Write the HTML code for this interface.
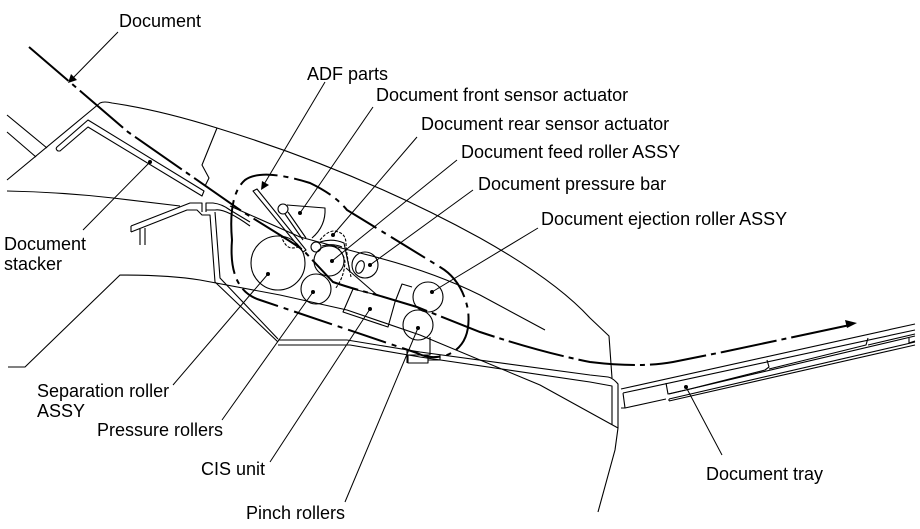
<!DOCTYPE html>
<html><head><meta charset="utf-8"><style>
html,body{margin:0;padding:0;background:#fff}
svg{display:block}
text{font-family:"Liberation Sans",sans-serif;font-size:18px;fill:#000}
</style></head><body>
<svg width="920" height="529" viewBox="0 0 920 529" xmlns="http://www.w3.org/2000/svg">
<g fill="none" stroke="#000" stroke-width="1.1" stroke-linejoin="round">
<!-- body outline -->
<path d="M7 180L100 103Q104 101 112 103Q160 110 217 128Q360 172 480 238Q555 280 590 318L609 336L612 378"/>
<path d="M217 128L202 165L209 178L205 186"/>
<path d="M7 115L47 148M7 132L36 157"/>
<path d="M7 191Q60 192 113 198L180 206"/>
<!-- stacker -->
<path d="M58 151Q55 149 57 147L88 120L204 191L202 196L88 127L60 151Z"/>
<!-- left frame -->
<path d="M131 226L190 203H202V212M131 232L187 210H197L202 215H210L215 282L278 342M131 226V232M140 229V245M145 228V245"/>
<path d="M206 212V203H213Q222 204 230 210L250 222M215 212L220 278L278 339M206 210H215Q225 208 250 226"/>
<!-- lower body -->
<path d="M8 367H25L120 275Q170 275 200 280L280 295L347 310L420 335L540 385L618 428L615 450L598 512"/>
<path d="M278 340H347L420 352L590 375L608 377Q613 378 618 384V428M278 345H350L420 357L590 382L612 386V425"/>
<!-- inner curve -->
<path d="M230 206L300 237L360 253Q430 270 480 295L545 330"/>
<!-- rollers -->
<circle cx="278" cy="263" r="27"/>
<circle cx="316" cy="289" r="15"/>
<circle cx="329" cy="261" r="15"/>
<circle cx="365" cy="265" r="13"/>
<circle cx="428" cy="297" r="15"/>
<circle cx="418" cy="325" r="15"/>
<circle cx="316" cy="247" r="5"/>
<circle cx="283" cy="209" r="5"/>
<ellipse cx="360" cy="267" rx="4" ry="6.5" transform="rotate(20 360 267)"/>
<!-- actuator -->
<path d="M287 205L325 208Q326 226 312 238"/>
<path d="M285 214L303 240M288 212L306 238"/>
<path d="M253 191L257 189L306 250L303 252Z"/>
<path d="M281 235Q285 248 292 248Q296 248 301 246M320 240Q330 228 338 232Q346 234 346 244Q347 258 351 277" stroke-dasharray="3 1.5"/>
<path d="M334 246Q343 250 345 262Q344 278 335 289" stroke-dasharray="3 1.5"/>
<path d="M320 242Q332 238 344 243L350 272M322 246Q332 243 342 247"/>
<path d="M346 268L377 295"/>
<!-- CIS -->
<path d="M353 289L343 312L388 327L395 302L402 284L412 287"/>
<path d="M353 289L377 295"/>
<!-- pinch bracket -->
<path d="M430 337V355H408V363H428V355M440 355V360H428M407 350V363"/>
<!-- tray -->
<path d="M621 389L915 324M623 393L915 330M623 393L625 408L666 399M621 408H625"/>
<path d="M666 383L668 394L690 389L765 370L769 367L767 360M769 369L866 345L868 338M868 345L915 334"/>
<path d="M669 399L915 342M669 401L915 345M669 399V401M669 394L915 336"/>
<path d="M909 338V343L915 341"/>
</g>
<!-- leaders -->
<g fill="none" stroke="#000" stroke-width="1">
<path d="M118 32L72 79"/>
<path d="M325 82L263 186"/>
<path d="M373 107L300 213"/>
<path d="M417 137L333 235"/>
<path d="M457 160L332 261"/>
<path d="M473 190L370 265"/>
<path d="M538 228L432 292"/>
<path d="M83 230L150 162"/>
<path d="M173 385L268 274"/>
<path d="M222 420L313 292"/>
<path d="M270 462L370 309"/>
<path d="M345 502L418 328"/>
<path d="M722 455L686 387"/>
</g>
<g fill="#000">
<path d="M68 83L71 74L77 80Z"/>
<path d="M261 190L262 181L269 185Z"/>
<circle cx="300" cy="213" r="2"/><circle cx="333" cy="235" r="2"/><circle cx="332" cy="261" r="2"/>
<circle cx="370" cy="265" r="2"/><circle cx="432" cy="292" r="2"/><circle cx="150" cy="162" r="2"/>
<circle cx="268" cy="274" r="2"/><circle cx="313" cy="292" r="2"/><circle cx="370" cy="309" r="2"/>
<circle cx="418" cy="328" r="2"/><circle cx="686" cy="387" r="2"/>
<path d="M857 323L845 320L847 328Z"/>
</g>
<!-- document path -->
<path d="M29 47L128 132L187 173L243 212L280 235Q296 245 303 250L333 282Q350 288 377 295L417 307L480 332Q540 352 590 362Q640 368 673 362L723 352L850 325" fill="none" stroke="#000" stroke-width="2" stroke-dasharray="57 5 5 5" stroke-dashoffset="5"/>
<!-- dash-dot loop -->
<path d="M232 240Q228 195 245 180Q262 168 310 183Q335 195 347 210L440 267Q462 280 468 310Q472 345 447 355Q430 360 417 353L260 300Q228 290 232 240Z" fill="none" stroke="#000" stroke-width="2" stroke-dasharray="40 6 5 6"/>
<!-- labels -->
<text x="119" y="27">Document</text>
<text x="307" y="80">ADF parts</text>
<text x="376" y="101">Document front sensor actuator</text>
<text x="421" y="130">Document rear sensor actuator</text>
<text x="461" y="158">Document feed roller ASSY</text>
<text x="478" y="190">Document pressure bar</text>
<text x="541" y="225">Document ejection roller ASSY</text>
<text x="4" y="250">Document</text>
<text x="4" y="270">stacker</text>
<text x="37" y="397">Separation roller</text>
<text x="37" y="417">ASSY</text>
<text x="97" y="436">Pressure rollers</text>
<text x="201" y="475">CIS unit</text>
<text x="246" y="519">Pinch rollers</text>
<text x="706" y="480">Document tray</text>
</svg>
</body></html>
